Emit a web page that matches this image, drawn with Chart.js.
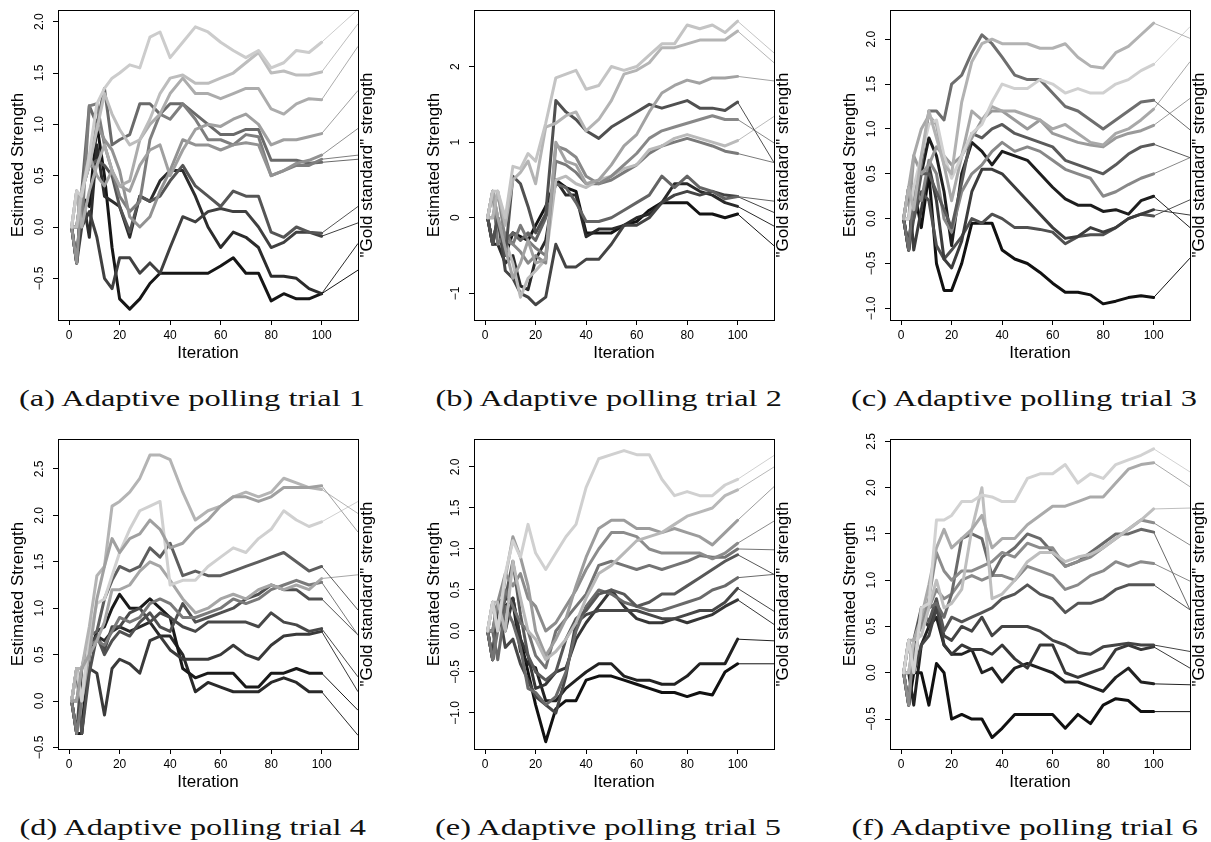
<!DOCTYPE html>
<html>
<head>
<meta charset="utf-8">
<script src="https://cdn.jsdelivr.net/npm/chart.js@4.4.1/dist/chart.umd.min.js"></script>
<style>
  body { margin: 0; background: #fff; width: 1211px; height: 842px; position: relative; overflow: hidden; }
  canvas { position: absolute; }
  .cap { position: absolute; font-family: "Liberation Serif", "DejaVu Serif", serif; font-size: 24px; line-height: 28px;
         white-space: nowrap; color: #111; transform-origin: center; }
</style>
</head>
<body>
<script>
// iterations at which the estimates were read off
const iterations = [1, 3, 5, 8, 11, 14, 17, 20, 24, 28, 32, 36, 40, 45, 50, 55, 60, 65, 70, 75, 80, 85, 90, 95, 100];
const xTicks = [0, 20, 40, 60, 80, 100];
const X_MAX = 114.4; // where the gold standard lines end (right edge)

// TRIAL 1
const trial1 = [
  [0, .35, .3, .7, 1.2,  1.35, 1.45, 1.5, 1.58, 1.55,  1.85, 1.9, 1.65, 1.8, 1.95,  1.9, 1.8, 1.72, 1.65, 1.72,  1.55, 1.6, 1.72, 1.7, 1.8],
  [0, 0, .35, .6, .95,  1.3, 1.1, .95, .8, .85,  1.05, 1.3, 1.45, 1.48, 1.4,  1.4, 1.45, 1.5, 1.6, 1.7,  1.5, 1.52, 1.48, 1.48, 1.51],
  [0, .35, 0, .35, .6,  .8, .55, .4, .45, .85,  1.0, 1.1, 1.3, 1.45, 1.3,  1.3, 1.25, 1.3, 1.35, 1.35,  1.15, 1.1, 1.2, 1.25, 1.24],
  [0, 0, .35, .7, .5,  .4, .55, .4, .35, .6,  .75, .8, .5, .75, .95,  1.0, .98, 1.05, 1.1, 1.0,  .8, .85, .85, .88, .91],
  [0, -.35, .35, .6, 1.0,  .85, .75, .55, .1, 0,  .1, .35, .55, .85, .8,  .8, .75, .8, .82, .8,  .5, .55, .62, .65, .7],
  [0, .35, 0, 1.18, 1.2,  .8, .55, .3, .15, .25,  .85, 1.1, 1.05, 1.2, 1.05,  .85, .85, .8, .9, .88,  .5, .55, .6, .6, .66],
  [0, 0, .35, 1.18, 1.0,  1.35, .8, .85, .9, 1.2,  1.2, 1.1, 1.2, 1.2, 1.1,  1.0, .9, .9, .95, .95,  .65, .65, .65, .62, .63],
  [0, 0, .35, .6, .65,  .6, .5, .2, -.05, .3,  .25, .3, .45, .6, .4,  .3, .2, .35, .3, .3,  -.05, -.1, 0, -.05, -.06],
  [0, -.35, 0, .15, -.1,  -.5, -.6, -.3, -.3, -.45,  -.35, -.45, -.2, .1, .05,  .15, .18, .15, .15, 0,  -.2, -.15, -.05, -.05, -.09],
  [0, -.35, .35, -.1, .8,  .3, .25, .2, -.1, .3,  .25, .45, .55, .55, .3,  0, -.2, -.05, -.1, -.2,  -.48, -.48, -.5, -.6, -.65],
  [0, -.35, .3, .2, 1.0,  .5, -.2, -.7, -.8, -.7,  -.55, -.45, -.45, -.45, -.45,  -.45, -.38, -.3, -.45, -.45,  -.72, -.65, -.7, -.7, -.65]
];
const gold1 = [2.12, 1.98, 1.76, 1.33, 0.96, 0.70, 0.66, 0.20, 0.04, -0.16, -0.42];
const yTicks1 = [-0.5, 0, 0.5, 1, 1.5, 2];
const yLabels1 = ["\u22120.5", "0.0", "0.5", "1.0", "1.5", "2.0"];
const greys1 = ["#cccccc", "#bdbdbd", "#acacac", "#a0a0a0", "#929292", "#7e7e7e", "#6a6a6a", "#555555", "#404040", "#2c2c2c", "#161616"];

// TRIAL 2
const trial2 = [
  [0, .35, .35, 0, .68,  .65, .85, .75, 1.25, 1.85,  1.9, 1.95, 1.7, 1.75, 2.0,  1.95, 2.0, 2.15, 2.3, 2.3,  2.55, 2.5, 2.55, 2.45, 2.6],
  [0, 0, .35, -.1, .5,  .6, .75, .45, 1.2, 1.25,  1.35, 1.4, 1.15, 1.3, 1.55,  1.9, 1.95, 2.05, 2.25, 2.25,  2.3, 2.35, 2.35, 2.35, 2.47],
  [0, .35, 0, -.4, -.8,  -.6, -.3, -.6, -.55, 1.0,  .75, .7, .45, .5, .7,  .95, 1.1, 1.4, 1.65, 1.75,  1.82, 1.78, 1.85, 1.85, 1.87],
  [0, -.35, 0, -.5, .55,  .45, .15, -.2, .05, 1.55,  1.4, 1.3, 1.15, 1.05, 1.2,  1.3, 1.4, 1.5, 1.45, 1.5,  1.55, 1.45, 1.45, 1.42, 1.53],
  [0, 0, .35, -.3, -.35,  -.45, -.6, -.5, -.6, .95,  .9, .8, .55, .45, .55,  .7, .85, 1.05, 1.15, 1.2,  1.25, 1.3, 1.35, 1.3, 1.3],
  [0, .35, 0, -.3, -.6,  -1.05, -.8, -.7, -.55, .5,  .55, .45, .4, .5, .55,  .65, .7, .9, .95, 1.05,  1.1, 1.05, 1.0, .95, 1.02],
  [0, .35, -.35, -.2, -.35,  -.1, -.3, -.4, -.5, .75,  .7, .6, .45, .45, .5,  .6, .7, .85, .95, 1.0,  1.05, 1.0, .95, .88, .85],
  [0, .35, 0, -.3, -.2,  -.3, -.2, -.3, 0, .45,  .4, .2, -.05, -.05, 0,  .1, .2, .3, .55, .4,  .55, .4, .35, .25, .28],
  [0, -.35, 0, -.7, -.8,  -1.0, -1.05, -1.15, -1.05, -.35,  -.65, -.65, -.55, -.55, -.35,  -.1, -.1, 0, .2, .3,  .35, .3, .35, .3, .28],
  [0, -.35, -.35, -.6, -.5,  -.9, -.95, -.55, -.3, .5,  .3, .3, -.25, -.15, -.15,  -.1, 0, .05, .2, .45,  .45, .35, .3, .2, .15],
  [0, -.35, 0, -.5, -.2,  -.25, -.3, -.1, .15, .5,  .4, .35, -.2, -.2, -.2,  -.1, -.05, .1, .2, .2,  .2, .05, .05, 0, .05]
];
const gold2 = [2.18, 2.05, 1.81, 0.73, 0.99, 1.34, 0.73, 0.22, 0.07, -0.11, -0.37];
const yTicks2 = [-1, 0, 1, 2];
const yLabels2 = ["\u22121", "0", "1", "2"];
const greys2 = ["#c4c4c4", "#b4b4b4", "#a2a2a2", "#505050", "#888888", "#bababa", "#7a7a7a", "#646464", "#444444", "#2a2a2a", "#141414"];

// TRIAL 3
const trial3 = [
  [0, .35, .1, .7, 1.2,  .9, .6, .5, 1.3, 1.75,  1.95, 2.0, 1.95, 1.95, 1.95,  1.9, 1.9, 1.95, 1.8, 1.7,  1.68, 1.85, 1.92, 2.05, 2.18],
  [0, 0, .35, .7, 1.05,  1.1, .7, .45, .7, .95,  1.05, 1.3, 1.5, 1.45, 1.45,  1.55, 1.5, 1.4, 1.45, 1.4,  1.4, 1.5, 1.55, 1.65, 1.72],
  [0, -.35, .3, .6, 1.2,  1.2, 1.1, 1.5, 1.6, 1.85,  2.05, 1.95, 1.8, 1.6, 1.55,  1.55, 1.4, 1.25, 1.2, 1.1,  1.0, 1.1, 1.2, 1.3, 1.32],
  [0, .35, .7, 1.0, 1.15,  1.05, .6, .2, .7, 1.2,  1.1, 1.25, 1.2, 1.2, 1.15,  1.1, 1.0, 1.05, .95, .85,  .82, .95, 1.0, 1.1, 1.22],
  [0, 0, .7, .5, .6,  .8, .7, .6, .7, .9,  1.1, 1.2, 1.2, 1.1, 1.0,  1.1, .95, .9, .85, .82,  .8, .9, .95, .98, 1.04],
  [0, .35, 0, .5, .5,  .3, .1, -.1, .4, .95,  .9, 1.0, 1.05, .95, .9,  .85, .8, .65, .6, .55,  .5, .6, .72, .8, .83],
  [0, 0, .35, .2, .65,  .5, 0, -.15, .3, .5,  .6, .75, .85, .75, .8,  .75, .65, .55, .5, .45,  .25, .3, .38, .45, .5],
  [0, -.35, .3, .5, .9,  .7, .3, -.3, .5, .85,  .75, .6, .75, .7, .65,  .5, .35, .22, .15, .15,  .08, .1, .05, .2, .25],
  [0, .35, -.35, .1, .6,  .2, -.45, -.55, -.25, .3,  .55, .55, .5, .35, .2,  .05, -.1, -.22, -.2, -.1,  -.15, -.1, 0, .05, .1],
  [0, -.35, 0, .3, .2,  -.3, -.45, -.35, -.2, 0,  -.05, .05, 0, -.1, -.1,  -.12, -.15, -.28, -.2, -.18,  -.18, -.1, 0, .05, .03],
  [0, -.35, .35, -.1, .5,  -.5, -.8, -.8, -.5, -.05,  -.05, -.05, -.35, -.45, -.5,  -.6, -.72, -.82, -.82, -.85,  -.95, -.92, -.88, -.86, -.88]
];
const gold3 = [2.01, 2.14, 0.99, 1.75, 1.34, 0.68, 0.68, -0.10, 0.04, 0.21, -0.44];
const yTicks3 = [-1, -0.5, 0, 0.5, 1, 1.5, 2];
const yLabels3 = ["\u22121.0", "\u22120.5", "0.0", "0.5", "1.0", "1.5", "2.0"];
const greys3 = ["#b2b2b2", "#d0d0d0", "#6e6e6e", "#a8a8a8", "#9a9a9a", "#5a5a5a", "#888888", "#1e1e1e", "#3c3c3c", "#505050", "#111111"];

// TRIAL 4
const trial4 = [
  [0, 0, .35, .5, 1.1,  1.45, 1.75, 1.6, 1.75, 1.8,  1.95, 1.85, 1.65, 1.7, 1.85,  1.95, 2.1, 2.2, 2.2, 2.15,  2.2, 2.3, 2.3, 2.3, 2.32],
  [0, .35, .35, .8, 1.35,  1.45, 2.1, 2.15, 2.25, 2.4,  2.65, 2.65, 2.6, 2.25, 1.95,  2.05, 2.1, 2.2, 2.25, 2.2,  2.25, 2.4, 2.35, 2.3, 2.28],
  [0, .35, 0, .7, 1.05,  1.1, 1.35, 1.6, 1.85, 2.05,  2.1, 2.15, 1.25, 1.3, 1.3,  1.45, 1.55, 1.65, 1.6, 1.75,  1.85, 2.05, 1.95, 1.88, 1.93],
  [0, 0, .35, .7, .75,  1.1, 1.3, 1.45, 1.4, 1.45,  1.65, 1.55, 1.7, 1.35, 1.4,  1.35, 1.35, 1.4, 1.45, 1.5,  1.55, 1.6, 1.5, 1.4, 1.45],
  [0, .35, 0, .5, .65,  .85, 1.2, 1.2, 1.25, 1.4,  1.5, 1.45, 1.3, 1.1, .95,  1.0, 1.1, 1.15, 1.1, 1.2,  1.25, 1.2, 1.25, 1.2, 1.32],
  [0, -.35, 0, .6, .65,  .6, .75, .9, .85, .9,  1.05, 1.1, 1.05, .9, .9,  .95, 1.0, 1.1, 1.05, 1.1,  1.2, 1.25, 1.3, 1.25, 1.28],
  [0, .35, -.35, .3, .7,  .5, .65, .75, .7, .85,  .95, .8, .75, 1.05, .85,  .9, .95, 1.0, 1.1, 1.15,  1.25, 1.2, 1.2, 1.1, 1.1],
  [0, -.35, .35, .6, .7,  .55, .8, .8, .95, 1.0,  .85, .95, .9, .8, .75,  .85, .85, .85, .85, .8,  .95, .85, .82, .75, .78],
  [0, .35, 0, .35, .3,  -.15, .35, .45, .4, .3,  .65, .7, .55, .45, .45,  .45, .5, .6, .5, .45,  .6, .7, .72, .72, .75],
  [0, -.35, -.35, .5, .75,  .8, 1.0, 1.15, 1.0, 1.0,  1.1, 1.0, .9, .35, .25,  .3, .3, .3, .15, .15,  .3, .3, .35, .3, .3],
  [0, -.35, -.35, .6, .7,  .65, .75, .8, .75, .8,  .85, .7, .7, .5, .1,  .2, .15, .1, .1, .1,  .2, .25, .2, .1, .1]
];
const gold4 = [1.82, 2.02, 2.15, 0.98, 1.36, 0.71, 0.71, 0.26, 0.10, -0.10, -0.37];
const yTicks4 = [-0.5, 0, 0.5, 1, 1.5, 2, 2.5];
const yLabels4 = ["\u22120.5", "0.0", "0.5", "1.0", "1.5", "2.0", "2.5"];
const greys4 = ["#a0a0a0", "#b4b4b4", "#d0d0d0", "#5e5e5e", "#a6a6a6", "#7a7a7a", "#505050", "#484848", "#3a3a3a", "#1a1a1a", "#2a2a2a"];

// TRIAL 5
const trial5 = [
  [0, .35, 0, .7, 1.1,  .9, 1.3, .95, .75, .95,  1.15, 1.3, 1.75, 2.1, 2.15,  2.2, 2.15, 2.15, 1.85, 1.65,  1.7, 1.65, 1.65, 1.78, 1.85],
  [0, .35, .35, 0, .85,  .4, 0, -.1, -.35, -.25,  -.1, .1, .4, .7, .8,  .95, 1.1, 1.15, 1.2, 1.3,  1.4, 1.45, 1.5, 1.65, 1.72],
  [0, .35, 0, .65, 1.15,  .9, .55, 0, -.3, -.1,  .15, .55, .9, 1.25, 1.35,  1.35, 1.25, 1.25, 1.2, 1.25,  1.2, 1.15, 1.05, 1.2, 1.35],
  [0, 0, .35, .7, .55,  .7, .4, .3, 0, .1,  .3, .5, .75, 1.0, 1.2,  1.2, 1.15, 1.0, .95, .95,  .95, .95, .88, .95, 1.07],
  [0, -.35, 0, .5, .3,  .1, 0, -.3, -.45, 0,  .15, .3, .45, .8, .85,  .8, .75, .8, .75, .8,  .85, .92, .9, .9, 1.0],
  [0, .35, 0, .4, .85,  .2, -.3, -.5, -.6, -.5,  -.1, .15, .25, .45, .5,  .45, .3, .35, .45, .45,  .55, .65, .75, .85, .93],
  [0, 0, -.35, .3, .1,  -.2, -.7, -.75, -.9, -.8,  -.5, 0, .3, .5, .45,  .35, .3, .25, .25, .3,  .35, .4, .5, .55, .65],
  [0, -.35, .35, -.2, -.1,  -.4, -.6, -.8, -.9, -1.0,  -.55, .1, .2, .25, .25,  .25, .25, .2, .15, .15,  .2, .25, .25, .35, .52],
  [0, 0, .35, 0, .4,  -.1, -.3, -.7, -.65, -.5,  -.45, -.1, .1, .3, .5,  .3, .15, .1, .1, .15,  .1, .15, .2, .3, .38],
  [0, -.35, .35, .4, .35,  -.25, -.4, -.45, -.85, -.85,  -.7, -.6, -.5, -.4, -.4,  -.55, -.6, -.6, -.65, -.65,  -.55, -.4, -.4, -.4, -.1],
  [0, -.35, .35, .3, .4,  -.1, -.5, -.9, -1.35, -.95,  -.85, -.85, -.6, -.55, -.55,  -.6, -.65, -.7, -.75, -.75,  -.8, -.75, -.78, -.5, -.4]
];
const gold5 = [2.14, 2.00, 1.76, 1.34, 0.99, 0.69, 0.69, 0.24, 0.08, -0.12, -0.40];
const yTicks5 = [-1, -0.5, 0, 0.5, 1, 1.5, 2];
const yLabels5 = ["\u22121.0", "\u22120.5", "0.0", "0.5", "1.0", "1.5", "2.0"];
const greys5 = ["#d0d0d0", "#b8b8b8", "#9c9c9c", "#8c8c8c", "#747474", "#585858", "#6a6a6a", "#474747", "#363636", "#222222", "#111111"];

// TRIAL 6
const trial6 = [
  [0, .35, 0, .7, .75,  1.65, 1.65, 1.7, 1.85, 1.85,  1.92, 1.9, 1.85, 1.85, 2.1,  2.15, 2.15, 2.25, 2.05, 2.15,  2.1, 2.25, 2.3, 2.35, 2.42],
  [0, .35, .35, .6, .95,  1.35, 1.55, 1.35, 1.45, 1.55,  1.7, 1.35, 1.45, 1.45, 1.6,  1.7, 1.8, 1.8, 1.85, 1.9,  1.9, 2.05, 2.2, 2.25, 2.27],
  [0, 0, .35, .4, .7,  1.0, .7, .75, .9, 1.55,  2.0, .8, .85, 1.0, 1.2,  1.3, 1.3, 1.2, 1.25, 1.28,  1.35, 1.45, 1.55, 1.65, 1.77],
  [0, -.35, .35, .5, .8,  1.3, 1.1, 1.0, 1.1, 1.1,  1.15, 1.2, 1.3, 1.25, 1.4,  1.35, 1.35, 1.15, 1.2, 1.25,  1.35, 1.45, 1.55, 1.65, 1.62],
  [0, .35, 0, .7, .7,  .75, .6, .85, 1.45, 1.5,  1.45, 1.05, 1.25, 1.35, 1.5,  1.45, 1.3, 1.15, 1.2, 1.3,  1.4, 1.5, 1.5, 1.55, 1.52],
  [0, 0, .35, .5, .7,  .9, .8, .85, 1.0, 1.05,  1.0, 1.05, 1.05, 1.0, 1.15,  1.1, 1.05, .9, .95, 1.05,  1.1, 1.2, 1.15, 1.2, 1.18],
  [0, -.35, .35, .7, .55,  .8, .45, .6, .55, .6,  .65, .7, .8, .85, .95,  .85, .8, .65, .75, .75,  .8, .9, .95, .95, .95],
  [0, .35, 0, .3, .4,  .7, .4, .35, .5, .45,  .6, .4, .5, .5, .5,  .45, .35, .3, .22, .2,  .28, .3, .32, .3, .3],
  [0, -.35, .3, .6, .5,  .75, .3, .2, .3, .25,  .25, .2, .3, .15, .05,  .3, .3, 0, -.05, 0,  .05, .25, .3, .25, .28],
  [0, 0, -.35, .3, .5,  .6, .3, .2, .2, .25,  0, .05, -.1, .05, .1,  .05, 0, -.1, -.1, -.15,  -.2, -.05, .05, -.1, -.12],
  [0, -.35, 0, 0, -.35,  .1, 0, -.5, -.45, -.5,  -.5, -.7, -.6, -.45, -.45,  -.45, -.45, -.6, -.45, -.55,  -.35, -.28, -.3, -.42, -.42]
];
const gold6 = [2.17, 2.01, 1.78, 1.38, 0.68, 0.99, 0.68, 0.23, 0.05, -0.13, -0.42];
const yTicks6 = [-0.5, 0, 0.5, 1, 1.5, 2, 2.5];
const yLabels6 = ["\u22120.5", "0.0", "0.5", "1.0", "1.5", "2.0", "2.5"];
const greys6 = ["#d2d2d2", "#aaaaaa", "#bebebe", "#8c8c8c", "#6a6a6a", "#8a8a8a", "#555555", "#444444", "#383838", "#222222", "#111111"];

const panels = [
  { series: trial1, gold: gold1, greys: greys1, yTicks: yTicks1, yLabels: yLabels1, yMin: -0.906, yMax: 2.114, left: 0,   top: 0,   capX: 192,  capTop: 384, caption: "(a) Adaptive polling trial 1" },
  { series: trial2, gold: gold2, greys: greys2, yTicks: yTicks2, yLabels: yLabels2, yMin: -1.352, yMax: 2.748, left: 416, top: 0,   capX: 608,  capTop: 384, caption: "(b) Adaptive polling trial 2" },
  { series: trial3, gold: gold3, greys: greys3, yTicks: yTicks3, yLabels: yLabels3, yMin: -1.130, yMax: 2.326, left: 832, top: 0,   capX: 1024, capTop: 384, caption: "(c) Adaptive polling trial 3" },
  { series: trial4, gold: gold4, greys: greys4, yTicks: yTicks4, yLabels: yLabels4, yMin: -0.517, yMax: 2.823, left: 0,   top: 429, capX: 192,  capTop: 813, caption: "(d) Adaptive polling trial 4" },
  { series: trial5, gold: gold5, greys: greys5, yTicks: yTicks5, yLabels: yLabels5, yMin: -1.439, yMax: 2.341, left: 416, top: 429, capX: 608,  capTop: 813, caption: "(e) Adaptive polling trial 5" },
  { series: trial6, gold: gold6, greys: greys6, yTicks: yTicks6, yLabels: yLabels6, yMin: -0.824, yMax: 2.526, left: 832, top: 429, capX: 1024, capTop: 813, caption: "(f) Adaptive polling trial 6" }
];

Chart.defaults.font.family = "'Liberation Sans', Arial, sans-serif";
Chart.defaults.color = "#000";

// box round the plot, rotated y labels, and the right-hand label
const frame = {
  id: "frame",
  afterDraw(chart, args, opts) {
    const { ctx, chartArea: a } = chart;
    const y = chart.scales.y;
    ctx.save();
    ctx.strokeStyle = "#000";
    ctx.lineWidth = 1;
    ctx.strokeRect(a.left + 0.5, a.top + 0.5, a.right - a.left, a.bottom - a.top);
    ctx.fillStyle = "#000";
    ctx.textAlign = "center";
    ctx.textBaseline = "middle";
    ctx.font = "12px 'Liberation Sans', Arial, sans-serif";
    opts.ticks.forEach((v, i) => {
      ctx.save();
      ctx.translate(a.left - 18, y.getPixelForValue(v));
      ctx.rotate(-Math.PI / 2);
      ctx.fillText(opts.labels[i], 0, 0);
      ctx.restore();
    });
    ctx.font = "17px 'Liberation Sans', Arial, sans-serif";
    ctx.translate(a.right + 9, (a.top + a.bottom) / 2);
    ctx.rotate(-Math.PI / 2);
    ctx.fillText('"Gold standard" strength', 0, 0);
    ctx.restore();
  }
};

panels.forEach(p => {
  const canvas = document.createElement("canvas");
  canvas.width = 380;
  canvas.height = 370;
  canvas.style.left = p.left + "px";
  canvas.style.top = p.top + "px";
  document.body.appendChild(canvas);

  const lines = p.series.map((vals, k) => ({
    data: iterations.map((x, i) => ({ x: x, y: vals[i] })),
    borderColor: p.greys[k],
    borderWidth: 3,
    borderJoinStyle: "round",
    borderCapStyle: "round",
    pointRadius: 0,
    tension: 0
  }));
  const goldLines = p.series.map((vals, k) => ({
    data: [{ x: 100, y: vals[vals.length - 1] }, { x: X_MAX, y: p.gold[k] }],
    borderColor: p.greys[k],
    borderWidth: 1,
    pointRadius: 0
  }));

  new Chart(canvas, {
    type: "line",
    data: { datasets: lines.concat(goldLines) },
    options: {
      responsive: false,
      animation: false,
      events: [],
      layout: { padding: { left: 0, top: 10, right: 22, bottom: 5 } },
      plugins: {
        legend: { display: false },
        tooltip: { enabled: false },
        frame: { ticks: p.yTicks, labels: p.yLabels }
      },
      scales: {
        x: {
          type: "linear",
          min: -4.4,
          max: X_MAX,
          afterBuildTicks: s => { s.ticks = xTicks.map(v => ({ value: v })); },
          afterFit: s => { s.height = 45; },
          border: { display: false },
          grid: { drawOnChartArea: false, drawTicks: true, tickLength: 5, color: "#000" },
          ticks: { font: { size: 12 }, padding: 3, maxRotation: 0, callback: v => String(v) },
          title: { display: true, text: "Iteration", font: { size: 17 }, padding: { top: 0, bottom: 1 } }
        },
        y: {
          type: "linear",
          min: p.yMin,
          max: p.yMax,
          afterBuildTicks: s => { s.ticks = p.yTicks.map(v => ({ value: v })); },
          afterFit: s => { s.width = 58; },
          border: { display: false },
          grid: { drawOnChartArea: false, drawTicks: true, tickLength: 5, color: "#000" },
          ticks: { display: false },
          title: { display: true, text: "Estimated Strength", font: { size: 17 }, padding: { top: 8, bottom: 0 } }
        }
      }
    },
    plugins: [frame]
  });

  const cap = document.createElement("div");
  cap.className = "cap";
  cap.textContent = p.caption;
  document.body.appendChild(cap);
  const w = cap.offsetWidth;
  cap.style.left = (p.capX - w / 2) + "px";
  cap.style.top = p.capTop + "px";
  cap.style.transform = "scaleX(" + (346 / w).toFixed(3) + ")";
});
</script>
</body>
</html>
